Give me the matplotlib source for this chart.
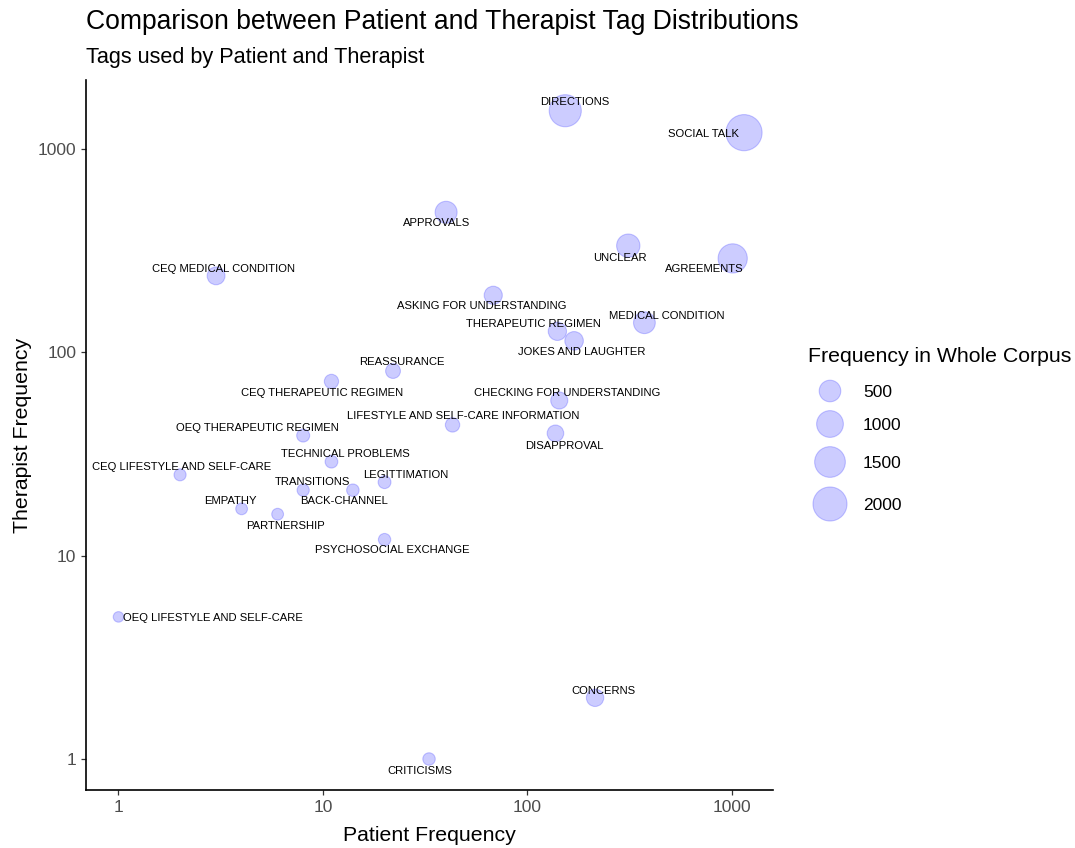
import numpy as np
import matplotlib
matplotlib.use("Agg")
import matplotlib.pyplot as plt

# ---------------- data ----------------
tags = [
    "DIRECTIONS", "SOCIAL TALK", "APPROVALS", "UNCLEAR", "AGREEMENTS",
    "CEQ MEDICAL CONDITION", "ASKING FOR UNDERSTANDING", "THERAPEUTIC REGIMEN",
    "MEDICAL CONDITION", "JOKES AND LAUGHTER", "REASSURANCE",
    "CEQ THERAPEUTIC REGIMEN", "OEQ THERAPEUTIC REGIMEN", "TECHNICAL PROBLEMS",
    "CEQ LIFESTYLE AND SELF-CARE", "TRANSITIONS", "BACK-CHANNEL", "LEGITTIMATION",
    "EMPATHY", "PARTNERSHIP", "PSYCHOSOCIAL EXCHANGE",
    "LIFESTYLE AND SELF-CARE INFORMATION", "CHECKING FOR UNDERSTANDING",
    "DISAPPROVAL", "OEQ LIFESTYLE AND SELF-CARE", "CONCERNS", "CRITICISMS",
]
patient_freq = [153, 1145, 40, 311, 1008, 3, 68, 140, 373, 169, 22,
                11, 8, 11, 2, 8, 14, 20, 4, 6, 20, 43, 143, 137, 1, 214, 33]
therapist_freq = [1545, 1205, 489, 335, 290, 238, 191, 127, 140, 114, 81,
                  72, 39, 29, 25, 21, 21, 23, 17, 16, 12, 44, 58, 40, 5, 2, 1]
corpus_freq = [1700, 2350, 530, 646, 1298, 241, 259, 267, 513, 283, 103,
               83, 47, 40, 27, 29, 35, 43, 21, 22, 32, 87, 201, 177, 6, 216, 34]
legend_values = [500, 1000, 1500, 2000]
x_ticks = [1, 10, 100, 1000]
y_ticks = [1, 10, 100, 1000]

# label offsets from point centre (pixels, +y downward)
label_offsets = {
    "DIRECTIONS": (9, -8.4), "SOCIAL TALK": (-40.7, 1.3), "APPROVALS": (-10, 10.4),
    "UNCLEAR": (-8.5, 12), "AGREEMENTS": (-28, 10.4),
    "CEQ MEDICAL CONDITION": (7.4, -7), "ASKING FOR UNDERSTANDING": (-11, 11),
    "THERAPEUTIC REGIMEN": (-24, -7.7), "MEDICAL CONDITION": (22.7, -7),
    "JOKES AND LAUGHTER": (7.7, 11), "REASSURANCE": (9.3, -9),
    "CEQ THERAPEUTIC REGIMEN": (-9.7, 11.6), "OEQ THERAPEUTIC REGIMEN": (-45.7, -7.3),
    "TECHNICAL PROBLEMS": (14.4, -7.3), "CEQ LIFESTYLE AND SELF-CARE": (1.2, -8.3),
    "TRANSITIONS": (9.3, -8.4), "BACK-CHANNEL": (-8.7, 10.4),
    "LEGITTIMATION": (21.5, -7.4), "EMPATHY": (-10.8, -8.3),
    "PARTNERSHIP": (8, 11.4), "PSYCHOSOCIAL EXCHANGE": (7.3, 10.7),
    "LIFESTYLE AND SELF-CARE INFORMATION": (10.5, -9),
    "CHECKING FOR UNDERSTANDING": (8, -7.4), "DISAPPROVAL": (8.8, 12.7),
    "OEQ LIFESTYLE AND SELF-CARE": (94.4, 0.6), "CONCERNS": (8, -7.3),
    "CRITICISMS": (-9.7, 11.7),
}

plt.rcParams['font.family'] = ['Liberation Sans', 'DejaVu Sans']

DPI = 100
W, H = 1075, 848
PX = 72.0 / DPI  # points per pixel


def marker_area(v):
    r_px = 4.6 + 0.278 * np.sqrt(np.asarray(v, dtype=float))
    return (2 * r_px * PX) ** 2


fill = (0, 0, 1, 0.2)
edge = (0, 0, 1, 0.2)

fig = plt.figure(figsize=(W / DPI, H / DPI), dpi=DPI)
ax = fig.add_axes([86 / W, 1 - 790 / H, (773 - 86) / W, (790 - 80) / H])

ax.scatter(patient_freq, therapist_freq, s=marker_area(corpus_freq),
           facecolor=fill, edgecolor=edge, linewidth=0.8, zorder=2)

for t, xv, yv in zip(tags, patient_freq, therapist_freq):
    dx, dy = label_offsets[t]
    ax.annotate(t, (xv, yv), xytext=(dx * PX, -dy * PX), textcoords='offset points',
                ha='center', va='center', fontsize=8.1, color='black', zorder=3)

ax.set_xscale('log')
ax.set_yscale('log')
ax.set_xlim(10 ** -0.1589, 10 ** 3.2005)
ax.set_ylim(10 ** -0.1525, 10 ** 3.340)
ax.set_xticks(x_ticks)
ax.set_xticklabels([str(v) for v in x_ticks])
ax.set_yticks(y_ticks)
ax.set_yticklabels([str(v) for v in y_ticks])
ax.minorticks_off()
ax.tick_params(axis='both', which='major', length=3.9, width=0.9, color='#333333',
               labelcolor='#4D4D4D', labelsize=12.5, pad=3)
for s in ['top', 'right']:
    ax.spines[s].set_visible(False)
for s in ['left', 'bottom']:
    ax.spines[s].set_linewidth(1.2)
    ax.spines[s].set_color('black')

ax.set_xlabel("Patient Frequency", fontsize=15.3, labelpad=8.5)
ax.set_ylabel("Therapist Frequency", fontsize=15.3, labelpad=4)

fig.text(86 / W, 1 - 29 / H, "Comparison between Patient and Therapist Tag Distributions",
         fontsize=19.1, va='baseline', ha='left')
fig.text(86 / W, 1 - 63 / H, "Tags used by Patient and Therapist",
         fontsize=15.6, va='baseline', ha='left')

# legend drawn in a pixel-coordinate overlay
lax = fig.add_axes([0, 0, 1, 1], facecolor='none')
lax.set_xlim(0, W)
lax.set_ylim(H, 0)
lax.axis('off')
lax.text(808, 357, "Frequency in Whole Corpus", fontsize=15.3, ha='left', va='center')
leg_y = [391, 424, 462, 504]
lax.scatter([830] * len(legend_values), leg_y, s=marker_area(legend_values),
            facecolor=fill, edgecolor=edge, linewidth=0.8)
for v, yy in zip(legend_values, leg_y):
    lax.text(863, yy + 1.5, str(v), fontsize=12.5, ha='left', va='center')

fig.savefig("out.png", dpi=DPI)
